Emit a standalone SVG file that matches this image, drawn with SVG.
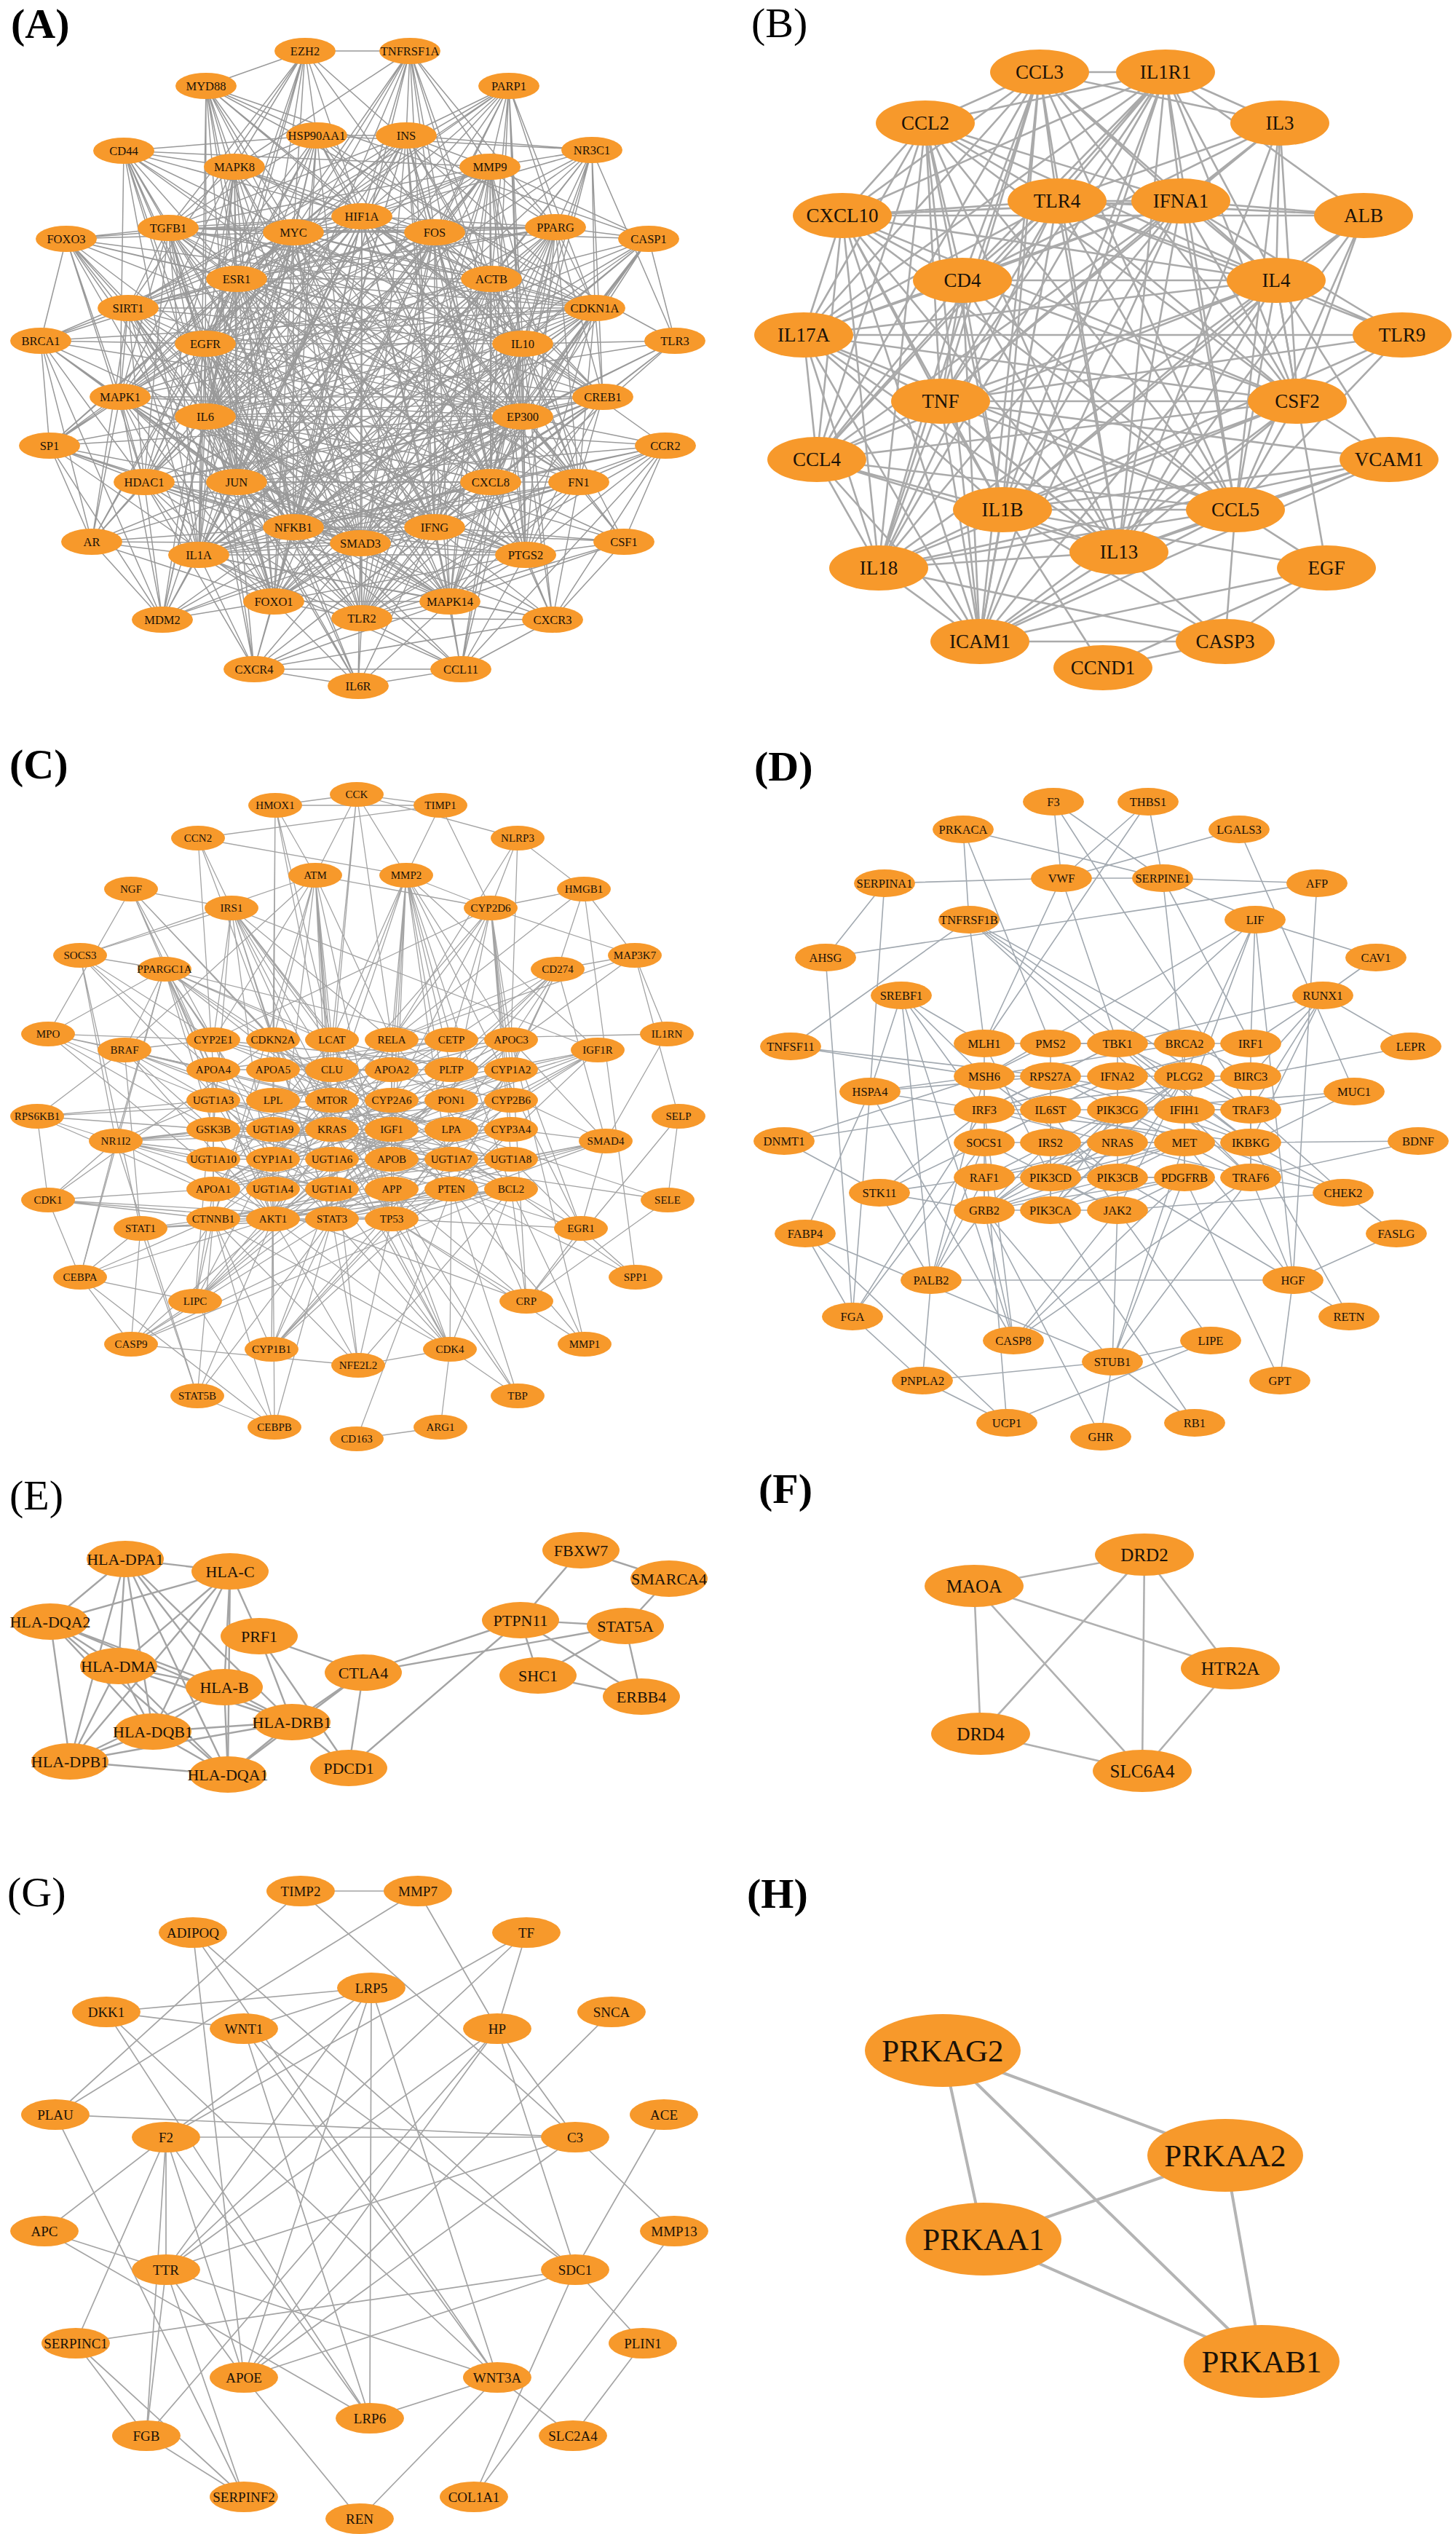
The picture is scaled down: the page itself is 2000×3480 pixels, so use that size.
<svg xmlns="http://www.w3.org/2000/svg" width="2000" height="3480" viewBox="0 0 2000 3480">
<style>
.nd ellipse{fill:#F7992B}
text{font-family:"Liberation Serif","Times New Roman",serif;fill:#1a1208;text-anchor:middle;dominant-baseline:central}
.tA{font-size:16.5px}.tB{font-size:27px}.tC{font-size:15px}.tD{font-size:16.5px}.tE{font-size:22px}.tF{font-size:25px}.tG{font-size:19px}.tH{font-size:43px}
.lab{font-size:58px;text-anchor:start;dominant-baseline:auto;fill:#000}
.bold{font-weight:bold}
.e path{fill:none;stroke:#a4a4a4;stroke-linecap:round}
.eA path{stroke-width:1.5;stroke:#999}.eB path{stroke-width:2.6;stroke:#aaa}.eC path{stroke-width:1.3}.eD path{stroke-width:1.6;stroke:#a2a9b0}.eE path{stroke-width:2.4}.eF path{stroke-width:2.6;stroke:#b0b0b0}.eG path{stroke-width:1.7}.eH path{stroke-width:4;stroke:#b4b4b4}
</style>
<rect width="2000" height="3480" fill="#fff"/>
<g id="panel-labels">
<text class="lab bold" x="15" y="52">(A)</text>
<text class="lab" x="1032" y="51">(B)</text>
<text class="lab bold" x="13" y="1069">(C)</text>
<text class="lab bold" x="1036" y="1072">(D)</text>
<text class="lab" x="13" y="2073">(E)</text>
<text class="lab bold" x="1042" y="2064">(F)</text>
<text class="lab" x="10" y="2618">(G)</text>
<text class="lab bold" x="1026" y="2620">(H)</text>
</g>
<g id="connectors" class="e">
<g id="edges-A" class="eA">
<path d="M283 118L419 70 435 186M322 229L419 70 403 319M325 383L419 70 282 472M231 313L419 70 497 297M597 319L419 70 282 572M176 423L419 70 563 70M817 423L419 70 325 662"/>
<path d="M558 186L563 70 497 297M597 319L563 70 403 319M673 229L563 70 675 383M403 724L563 70 282 572M674 662L563 70 273 762M282 472L563 70 322 229M597 724L563 70 718 572M763 312L563 70"/>
<path d="M273 762L283 118 282 572M497 849L283 118 403 724M322 229L283 118 435 186M325 383L283 118 403 319M497 297L283 118 597 724M927 468L283 118 674 662M718 472L283 118 325 662M891 328L283 118"/>
<path d="M558 186L699 118 497 297M673 229L699 118 675 383M718 472L699 118 718 572M817 423L699 118 763 312M403 724L699 118 176 423M403 319L699 118 325 383M325 662L699 118 597 319M282 572L699 118 674 662M722 762L699 118"/>
<path d="M435 186L170 207 322 229M282 472L170 207 325 383M403 319L170 207 282 572M165 545L170 207 325 662M795 662L170 207 673 229M497 297L170 207 403 724M495 746L170 207 231 313M718 572L170 207 273 762"/>
<path d="M558 186L813 206 673 229M763 312L813 206 675 383M718 472L813 206 718 572M817 423L813 206 828 545M597 319L813 206 497 297M325 662L813 206 403 724M282 572L813 206 435 186M674 662L813 206 927 468"/>
<path d="M231 313L91 328 176 423M325 383L91 328 403 319M282 472L91 328 282 572M165 545L91 328 56 468M198 662L91 328 325 662M497 297L91 328 376 826M718 572L91 328 495 746M718 472L91 328 817 423"/>
<path d="M763 312L891 328 675 383M718 472L891 328 718 572M674 662L891 328 597 724M817 423L891 328 927 468M282 572L891 328 403 724M497 849L891 328 597 319M673 229L891 328 325 662M273 762L891 328"/>
<path d="M176 423L56 468 282 472M165 545L56 468 282 572M325 383L56 468 198 662M325 662L56 468 68 612M126 744L56 468 223 851M403 319L56 468 817 423M718 572L56 468 403 724"/>
<path d="M718 472L927 468 718 572M674 662L927 468 597 724M282 572L927 468 403 724M497 849L927 468 828 545"/>
<path d="M165 545L68 612 282 472M282 572L68 612 198 662M325 662L68 612 126 744M223 851L68 612 325 383M718 572L68 612 403 724M495 746L68 612 376 826M403 319L68 612 497 297"/>
<path d="M674 662L914 612 597 724M718 472L914 612 718 572M795 662L914 612 857 744M759 851L914 612 633 919M282 572L914 612 497 849M403 724L914 612 722 762M325 662L914 612"/>
<path d="M198 662L126 744 165 545M282 472L126 744 282 572M325 662L126 744 223 851M403 724L126 744 495 746M376 826L126 744 718 572M325 383L126 744 176 423M273 762L126 744"/>
<path d="M795 662L857 744 674 662M718 572L857 744 718 472M597 724L857 744 282 572M759 851L857 744 618 826M497 849L857 744 722 762M403 724L857 744"/>
<path d="M273 762L223 851 325 662M198 662L223 851 282 572M282 472L223 851 165 545M376 826L223 851 495 746M718 572L223 851 403 319M325 383L223 851 817 423M597 724L223 851"/>
<path d="M722 762L759 851 597 724M674 662L759 851 718 572M718 472L759 851 618 826M633 919L759 851 497 849M795 662L759 851 282 572M403 724L759 851 349 919M273 762L759 851"/>
<path d="M376 826L349 919 273 762M325 662L349 919 282 572M403 724L349 919 495 746M497 849L349 919 492 942M618 826L349 919 674 662M597 724L349 919 633 919M198 662L349 919 282 472"/>
<path d="M618 826L633 919 597 724M674 662L633 919 282 572M497 849L633 919 492 942M722 762L633 919 718 572M718 472L633 919 403 724M273 762L633 919"/>
<path d="M497 849L492 942 495 746M282 572L492 942 325 662M403 724L492 942 376 826M618 826L492 942 597 724M282 472L492 942"/>
<path d="M403 319L497 297 597 319M325 383L497 297 675 383M282 472L497 297 718 472M282 572L497 297 718 572M325 662L497 297 674 662M403 724L497 297 597 724M495 746L497 297"/>
<path d="M597 319L403 319 325 383M675 383L403 319 282 472M718 472L403 319 282 572M718 572L403 319 325 662M674 662L403 319 403 724M597 724L403 319 495 746"/>
<path d="M325 383L597 319 675 383M282 472L597 319 718 472M282 572L597 319 718 572M325 662L597 319 674 662M403 724L597 319 597 724M495 746L597 319"/>
<path d="M675 383L325 383 282 472M718 472L325 383 282 572M718 572L325 383 325 662M674 662L325 383 403 724M597 724L325 383 495 746"/>
<path d="M282 472L675 383 718 472M282 572L675 383 718 572M325 662L675 383 674 662M403 724L675 383 597 724M495 746L675 383"/>
<path d="M718 472L282 472 282 572M718 572L282 472 325 662M674 662L282 472 403 724M597 724L282 472 495 746"/>
<path d="M282 572L718 472 718 572M325 662L718 472 674 662M403 724L718 472 597 724M495 746L718 472"/>
<path d="M718 572L282 572 325 662M674 662L282 572 403 724M597 724L282 572 495 746"/>
<path d="M325 662L718 572 674 662M403 724L718 572 597 724M495 746L718 572"/>
<path d="M674 662L325 662 403 724M597 724L325 662 495 746M403 724L674 662 597 724M495 746L674 662M597 724L403 724 495 746M495 746L597 724"/>
<path d="M497 297L435 186 403 319M597 319L435 186 325 383M675 383L435 186 282 472M282 572L435 186 718 572M325 662L435 186 403 724M495 746L435 186 558 186M322 229L435 186 231 313M817 423L435 186 165 545M376 826L435 186 722 762"/>
<path d="M497 297L558 186 403 319M597 319L558 186 325 383M675 383L558 186 282 472M718 472L558 186 282 572M325 662L558 186 674 662M403 724L558 186 597 724M673 229L558 186 763 312M176 423L558 186 231 313M273 762L558 186 376 826M722 762L558 186 618 826M497 849L558 186"/>
<path d="M497 297L322 229 403 319M597 319L322 229 325 383M675 383L322 229 282 472M282 572L322 229 325 662M403 724L322 229 495 746M231 313L322 229 165 545M618 826L322 229 198 662M273 762L322 229 376 826M597 724L322 229 817 423"/>
<path d="M497 297L673 229 403 319M597 319L673 229 325 383M675 383L673 229 282 472M718 472L673 229 282 572M718 572L673 229 325 662M674 662L673 229 403 724M597 724L673 229 495 746M763 312L673 229 231 313M795 662L673 229 722 762M618 826L673 229 497 849M273 762L673 229"/>
<path d="M497 297L231 313 403 319M597 319L231 313 325 383M675 383L231 313 282 472M718 472L231 313 282 572M718 572L231 313 325 662M674 662L231 313 403 724M597 724L231 313 495 746M176 423L231 313 165 545M198 662L231 313 795 662M273 762L231 313 376 826M618 826L231 313 817 423M763 312L231 313"/>
<path d="M497 297L763 312 403 319M597 319L763 312 325 383M675 383L763 312 718 472M282 572L763 312 718 572M325 662L763 312 674 662M403 724L763 312 597 724M495 746L763 312 817 423M828 545L763 312 795 662M722 762L763 312 176 423M273 762L763 312 497 849M376 826L763 312"/>
<path d="M497 297L176 423 403 319M597 319L176 423 325 383M282 472L176 423 282 572M718 572L176 423 325 662M403 724L176 423 495 746M165 545L176 423 198 662M376 826L176 423 817 423M273 762L176 423 718 472M722 762L176 423"/>
<path d="M497 297L817 423 403 319M597 319L817 423 325 383M675 383L817 423 282 472M718 472L817 423 282 572M718 572L817 423 325 662M674 662L817 423 403 724M495 746L817 423 828 545M795 662L817 423 722 762M618 826L817 423 198 662M165 545L817 423 376 826M273 762L817 423"/>
<path d="M497 297L165 545 403 319M597 319L165 545 325 383M675 383L165 545 282 472M282 572L165 545 718 572M325 662L165 545 403 724M495 746L165 545 198 662M273 762L165 545 376 826M618 826L165 545 674 662M597 724L165 545 722 762M828 545L165 545 497 849"/>
<path d="M497 297L828 545 403 319M597 319L828 545 325 383M675 383L828 545 282 472M718 472L828 545 282 572M718 572L828 545 325 662M674 662L828 545 403 724M597 724L828 545 495 746M795 662L828 545 722 762M618 826L828 545 376 826M198 662L828 545 273 762"/>
<path d="M497 297L198 662 403 319M597 319L198 662 325 383M282 472L198 662 282 572M718 572L198 662 325 662M403 724L198 662 495 746M273 762L198 662 376 826M674 662L198 662 597 724M618 826L198 662 497 849"/>
<path d="M497 297L795 662 403 319M597 319L795 662 325 383M675 383L795 662 282 472M718 472L795 662 282 572M718 572L795 662 325 662M674 662L795 662 403 724M597 724L795 662 495 746M722 762L795 662 618 826M273 762L795 662 497 849"/>
<path d="M497 297L273 762 403 319M597 319L273 762 325 383M675 383L273 762 282 472M718 472L273 762 282 572M718 572L273 762 325 662M674 662L273 762 403 724M597 724L273 762 495 746M376 826L273 762 722 762M618 826L273 762 497 849"/>
<path d="M497 297L722 762 403 319M597 319L722 762 325 383M675 383L722 762 282 472M718 472L722 762 282 572M718 572L722 762 325 662M674 662L722 762 403 724M597 724L722 762 495 746M376 826L722 762 618 826M497 849L722 762"/>
<path d="M497 297L376 826 403 319M597 319L376 826 325 383M675 383L376 826 282 472M718 472L376 826 282 572M718 572L376 826 325 662M403 724L376 826 597 724M495 746L376 826 618 826M497 849L376 826"/>
<path d="M497 297L618 826 403 319M597 319L618 826 325 383M675 383L618 826 282 472M718 472L618 826 282 572M718 572L618 826 325 662M674 662L618 826 403 724M597 724L618 826 495 746M497 849L618 826"/>
<path d="M497 297L497 849 403 319M597 319L497 849 325 383M675 383L497 849 282 472M718 472L497 849 282 572M718 572L497 849 325 662M674 662L497 849 403 724M597 724L497 849 495 746"/>
</g>
<g id="edges-B" class="eB">
<path d="M1601 99L1428 99 1271 169M1452 276L1428 99 1622 276M1157 296L1428 99 1322 385M1753 385L1428 99 1104 460M1292 551L1428 99 1782 551M1122 631L1428 99 1377 700M1697 700L1428 99 1537 758M1207 780L1428 99 1346 881"/>
<path d="M1271 169L1601 99 1452 276M1622 276L1601 99 1157 296M1322 385L1601 99 1753 385M1104 460L1601 99 1292 551M1782 551L1601 99 1122 631M1377 700L1601 99 1697 700M1537 758L1601 99 1207 780M1346 881L1601 99"/>
<path d="M1452 276L1271 169 1622 276M1157 296L1271 169 1322 385M1753 385L1271 169 1104 460M1292 551L1271 169 1782 551M1122 631L1271 169 1377 700M1697 700L1271 169 1537 758M1207 780L1271 169 1346 881"/>
<path d="M1622 276L1452 276 1157 296M1322 385L1452 276 1753 385M1104 460L1452 276 1292 551M1782 551L1452 276 1122 631M1377 700L1452 276 1697 700M1537 758L1452 276 1207 780M1346 881L1452 276"/>
<path d="M1157 296L1622 276 1322 385M1753 385L1622 276 1104 460M1292 551L1622 276 1782 551M1122 631L1622 276 1377 700M1697 700L1622 276 1537 758M1207 780L1622 276 1346 881"/>
<path d="M1322 385L1157 296 1753 385M1104 460L1157 296 1292 551M1782 551L1157 296 1122 631M1377 700L1157 296 1697 700M1537 758L1157 296 1207 780M1346 881L1157 296"/>
<path d="M1753 385L1322 385 1104 460M1292 551L1322 385 1782 551M1122 631L1322 385 1377 700M1697 700L1322 385 1537 758M1207 780L1322 385 1346 881"/>
<path d="M1104 460L1753 385 1292 551M1782 551L1753 385 1122 631M1377 700L1753 385 1697 700M1537 758L1753 385 1207 780M1346 881L1753 385"/>
<path d="M1292 551L1104 460 1782 551M1122 631L1104 460 1377 700M1697 700L1104 460 1537 758M1207 780L1104 460 1346 881"/>
<path d="M1782 551L1292 551 1122 631M1377 700L1292 551 1697 700M1537 758L1292 551 1207 780M1346 881L1292 551"/>
<path d="M1122 631L1782 551 1377 700M1697 700L1782 551 1537 758M1207 780L1782 551 1346 881"/>
<path d="M1377 700L1122 631 1697 700M1537 758L1122 631 1207 780M1346 881L1122 631"/>
<path d="M1697 700L1377 700 1537 758M1207 780L1377 700 1346 881M1537 758L1697 700 1207 780M1346 881L1697 700M1207 780L1537 758 1346 881M1207 780L1346 881"/>
<path d="M1601 99L1758 169 1428 99M1452 276L1758 169 1622 276M1753 385L1758 169 1782 551M1697 700L1758 169 1537 758M1292 551L1758 169 1322 385"/>
<path d="M1622 276L1873 296 1452 276M1753 385L1873 296 1782 551M1601 99L1873 296 1157 296M1697 700L1873 296 1537 758M1377 700L1873 296"/>
<path d="M1753 385L1926 460 1782 551M1452 276L1926 460 1622 276M1377 700L1926 460 1697 700M1104 460L1926 460 1292 551"/>
<path d="M1782 551L1908 631 1753 385M1292 551L1908 631 1377 700M1697 700L1908 631 1346 881M1537 758L1908 631 1207 780"/>
<path d="M1782 551L1822 780 1753 385M1346 881L1822 780 1697 700M1377 700L1822 780 1683 881M1515 917L1822 780"/>
<path d="M1537 758L1683 881 1377 700M1292 551L1683 881 1697 700M1346 881L1683 881 1207 780M1515 917L1683 881M1377 700L1515 917"/>
</g>
<g id="edges-C" class="eC">
<path d="M702 1469L293 1428 702 1511M702 1551L293 1428 375 1592M702 1592L293 1428 375 1674"/>
<path d="M538 1469L293 1469 620 1469M620 1428L293 1469 538 1592M620 1551L293 1469 293 1633"/>
<path d="M702 1592L293 1511 620 1592M456 1592L293 1511 456 1633M375 1633L293 1511 702 1551"/>
<path d="M375 1674L293 1551 538 1674M538 1551L293 1551 293 1674M456 1551L293 1551 702 1633M620 1633L293 1551 456 1511"/>
<path d="M702 1592L293 1592 620 1592M375 1551L293 1592 456 1633M702 1469L293 1592"/>
<path d="M620 1428L293 1633 702 1428M620 1469L293 1633 538 1469M538 1592L293 1633 456 1428M620 1511L293 1633 620 1551"/>
<path d="M375 1674L293 1674 538 1674M456 1674L293 1674 538 1633M702 1633L293 1674 456 1551M538 1428L293 1674"/>
<path d="M538 1674L375 1428 702 1633M620 1633L375 1428 456 1551M293 1674L375 1428 456 1674"/>
<path d="M620 1428L375 1469 375 1511M702 1428L375 1469 538 1592M620 1551L375 1469"/>
<path d="M702 1428L375 1511 620 1428M538 1592L375 1511 620 1469M538 1469L375 1511 538 1551"/>
<path d="M702 1592L375 1551 620 1592M702 1469L375 1551 456 1592"/>
<path d="M702 1469L375 1592 702 1511M702 1551L375 1592 538 1511M375 1674L375 1592"/>
<path d="M702 1592L375 1633 702 1551M456 1592L375 1633"/>
<path d="M456 1511L375 1674 538 1551M620 1633L375 1674 538 1428M702 1633L375 1674 456 1551M538 1633L375 1674 456 1428"/>
<path d="M538 1592L456 1428 620 1469M538 1469L456 1428 538 1674"/>
<path d="M538 1633L456 1469 538 1592M538 1674L456 1469 702 1633"/>
<path d="M456 1674L456 1511 538 1674M620 1633L456 1511 538 1551"/>
<path d="M702 1633L456 1551 538 1674M538 1428L456 1551"/>
<path d="M702 1511L456 1592 702 1592M702 1469L456 1592"/>
<path d="M702 1551L456 1633 620 1592M702 1511L456 1633 702 1428"/>
<path d="M702 1633L456 1674 538 1428M620 1633L456 1674 538 1674M538 1551L456 1674"/>
<path d="M538 1674L538 1428 702 1633M538 1551L538 1428"/>
<path d="M538 1592L538 1469 620 1428M620 1511L538 1469"/>
<path d="M538 1674L538 1551 538 1633M702 1633L538 1551"/>
<path d="M702 1633L538 1674 620 1633M702 1428L538 1674 702 1469"/>
<path d="M538 1592L620 1469 702 1428"/>
<path d="M490 1091L378 1106 605 1106M375 1428L378 1106 456 1428M433 1202L378 1106 456 1511M375 1674L378 1106"/>
<path d="M433 1202L490 1091 456 1428M456 1469L490 1091 558 1202M605 1106L490 1091 711 1151M538 1428L490 1091"/>
<path d="M318 1247L272 1151 375 1428M558 1202L272 1151 605 1106M293 1469L272 1151"/>
<path d="M293 1428L433 1202 375 1428M456 1428L433 1202 456 1469M456 1511L433 1202 456 1551M375 1674L433 1202 456 1674M538 1674L433 1202 110 1312M171 1442L433 1202 674 1247M538 1428L433 1202 293 1674"/>
<path d="M318 1247L180 1221 293 1428M375 1428L180 1221 375 1674M293 1469L180 1221 456 1511"/>
<path d="M293 1428L318 1247 375 1428M456 1428L318 1247 456 1469M456 1511L318 1247 538 1428M375 1674L318 1247 293 1551M456 1551L318 1247 538 1551M620 1633L318 1247 821 1442M110 1312L318 1247 456 1674"/>
<path d="M159 1567L110 1312 293 1428M456 1674L110 1312 226 1331M193 1687L110 1312 293 1469"/>
<path d="M293 1428L226 1331 293 1469M293 1511L226 1331 456 1428M456 1511L226 1331 375 1674M456 1674L226 1331 159 1567M66 1420L226 1331 375 1428M538 1551L226 1331 293 1551M171 1442L226 1331 620 1428M538 1469L226 1331"/>
<path d="M171 1442L66 1420 293 1469M293 1511L66 1420 293 1551M293 1428L66 1420 180 1221M375 1674L66 1420"/>
<path d="M293 1428L171 1442 293 1469M293 1511L171 1442 293 1551M375 1511L171 1442 51 1533M193 1687L171 1442 456 1551M456 1511L171 1442 375 1674"/>
<path d="M159 1567L51 1533 293 1551M293 1511L51 1533 375 1674M456 1511L51 1533 66 1648"/>
<path d="M293 1551L159 1567 375 1551M293 1592L159 1567 375 1592M293 1511L159 1567 293 1633M375 1633L159 1567 110 1754M271 1917L159 1567 66 1648M702 1551L159 1567 702 1511M456 1633L159 1567"/>
<path d="M293 1633L66 1648 293 1674M110 1754L66 1648 375 1674M538 1674L66 1648 375 1428"/>
<path d="M293 1674L193 1687 375 1674M456 1674L193 1687 110 1754M180 1846L193 1687"/>
<path d="M268 1787L110 1754 180 1846M293 1674L110 1754 375 1674M226 1331L110 1754"/>
<path d="M293 1633L268 1787 293 1469M620 1428L268 1787 456 1428M538 1469L268 1787 620 1469M538 1592L268 1787 180 1846M293 1674L268 1787 702 1428"/>
<path d="M375 1674L180 1846 293 1674M492 1875L180 1846 538 1674M456 1674L180 1846 702 1633"/>
<path d="M456 1674L271 1917 193 1687M375 1674L271 1917 293 1674M377 1960L271 1917"/>
<path d="M375 1674L373 1853 375 1592M702 1469L373 1853 702 1551M293 1674L373 1853 456 1674M538 1674L373 1853 456 1633M702 1511L373 1853"/>
<path d="M375 1674L377 1960 456 1674M293 1674L377 1960 268 1787M110 1754L377 1960"/>
<path d="M375 1674L492 1875 293 1674M456 1674L492 1875 538 1674M618 1853L492 1875 456 1551M702 1633L492 1875"/>
<path d="M605 1960L490 1976 620 1633M605 1960L618 1853"/>
<path d="M538 1674L618 1853 538 1633M620 1633L618 1853 375 1674M456 1674L618 1853 293 1674M711 1917L618 1853 702 1633M456 1551L618 1853 375 1428M456 1633L618 1853"/>
<path d="M538 1674L711 1917 538 1633M620 1633L711 1917"/>
<path d="M538 1674L723 1787 538 1633M798 1687L723 1787 917 1648M702 1428L723 1787 702 1633M293 1633L723 1787 620 1551"/>
<path d="M702 1633L803 1846 538 1674M702 1428L803 1846 620 1633"/>
<path d="M802 1221L873 1754 798 1687M620 1633L873 1754 702 1633"/>
<path d="M932 1533L917 1648 620 1551M538 1592L917 1648M872 1312L932 1533 723 1787"/>
<path d="M832 1567L916 1420 538 1428M872 1312L916 1420"/>
<path d="M702 1592L832 1567 702 1551M538 1674L832 1567 766 1331M798 1687L832 1567 702 1428M293 1674L832 1567 538 1428M375 1674L832 1567 456 1674"/>
<path d="M538 1674L798 1687 702 1633M620 1633L798 1687 702 1428M702 1592L798 1687"/>
<path d="M538 1551L821 1442 375 1674M456 1551L821 1442 620 1633M456 1511L821 1442 702 1511M702 1469L821 1442 456 1674"/>
<path d="M802 1221L872 1312 766 1331M538 1428L872 1312 674 1247M375 1674L872 1312"/>
<path d="M702 1428L766 1331 620 1428M538 1428L766 1331 702 1469M620 1633L766 1331 375 1674M456 1674L766 1331 802 1221M620 1469L766 1331"/>
<path d="M674 1247L802 1221 711 1151M538 1428L802 1221M674 1247L711 1151 702 1428M538 1428L711 1151M558 1202L605 1106 674 1247"/>
<path d="M538 1428L558 1202 620 1428M702 1428L558 1202 538 1469M620 1469L558 1202 538 1551M620 1551L558 1202 538 1674M674 1247L558 1202 821 1442M456 1428L558 1202 456 1469M456 1511L558 1202 798 1687M702 1633L558 1202 620 1633"/>
<path d="M702 1469L674 1247 702 1511M702 1551L674 1247 538 1511M375 1592L674 1247 293 1428M620 1428L674 1247 538 1428M702 1428L674 1247 702 1592M620 1511L674 1247"/>
</g>
<g id="edges-D" class="eD">
<path d="M1458 1206L1447 1101 1597 1206M1718 1524L1447 1101M1597 1206L1323 1139 1331 1263M1443 1433L1323 1139"/>
<path d="M1458 1206L1215 1213 1134 1315M1195 1499L1215 1213"/>
<path d="M1352 1433L1458 1206 1577 1101M1702 1139L1458 1206 1597 1206M1535 1433L1458 1206"/>
<path d="M1086 1437L1331 1263 1352 1433M1718 1617L1331 1263 1718 1524M1718 1478L1331 1263 1718 1569"/>
<path d="M1809 1213L1134 1315 1171 1808"/>
<path d="M1195 1499L1238 1367 1279 1758M1392 1841L1238 1367 1352 1433M1352 1478L1238 1367 1352 1524"/>
<path d="M1352 1478L1086 1437 1443 1478"/>
<path d="M1171 1808L1195 1499 1392 1841M1352 1478L1195 1499 1443 1478M1352 1524L1195 1499"/>
<path d="M1352 1478L1077 1567 1352 1524M1208 1638L1077 1567"/>
<path d="M1352 1524L1208 1638 1352 1569M1352 1617L1208 1638 1352 1662M1279 1758L1208 1638"/>
<path d="M1171 1808L1106 1694 1383 1954M1195 1499L1106 1694 1528 1870"/>
<path d="M1267 1896L1171 1808 1352 1524M1352 1569L1171 1808"/>
<path d="M1267 1896L1279 1758 1352 1617M1352 1662L1279 1758 1352 1569M1776 1758L1279 1758 1352 1478"/>
<path d="M1535 1662L1392 1841 1627 1617M1718 1617L1392 1841 1352 1662M1352 1524L1392 1841"/>
<path d="M1528 1870L1267 1896 1383 1954M1663 1841L1383 1954 1352 1569M1512 1973L1352 1662 1528 1870"/>
<path d="M1597 1206L1577 1101 1352 1433M1702 1139L1860 1499"/>
<path d="M1809 1213L1597 1206 1724 1263M1627 1478L1597 1206 1718 1433"/>
<path d="M1890 1315L1724 1263 1535 1433M1627 1478L1724 1263 1627 1524M1718 1433L1724 1263 1352 1478M1776 1758L1724 1263"/>
<path d="M1890 1315L1817 1367M1718 1433L1817 1367 1718 1524M1718 1478L1817 1367 1938 1437M1535 1433L1817 1367 1718 1569"/>
<path d="M1809 1213L1776 1758M1938 1437L1718 1478"/>
<path d="M1718 1524L1860 1499 1718 1569M1535 1524L1860 1499"/>
<path d="M1718 1569L1948 1567 1718 1617"/>
<path d="M1718 1617L1845 1638 1718 1569M1535 1524L1845 1638 1535 1662M1918 1694L1845 1638 1718 1524"/>
<path d="M1918 1694L1776 1758M1853 1808L1776 1758 1758 1896M1718 1617L1776 1758 1535 1617M1627 1569L1776 1758"/>
<path d="M1853 1808L1718 1569M1758 1896L1627 1617"/>
<path d="M1535 1662L1663 1841 1528 1870"/>
<path d="M1535 1662L1528 1870 1627 1617M1627 1569L1528 1870 1718 1617M1512 1973L1528 1870 1641 1954M1641 1954L1443 1662"/>
<path d="M1443 1433L1352 1433 1352 1478M1535 1433L1352 1433 1352 1524M1443 1617L1352 1433"/>
<path d="M1352 1478L1443 1433 1443 1478M1627 1433L1443 1433"/>
<path d="M1443 1478L1352 1478 1443 1524M1627 1433L1352 1478 1352 1569M1535 1617L1352 1478"/>
<path d="M1535 1478L1443 1478 1352 1524M1718 1617L1443 1478 1718 1478M1718 1569L1443 1478 1718 1524M1443 1662L1443 1478 1535 1433"/>
<path d="M1352 1524L1535 1433 1535 1478M1718 1569L1535 1433 1718 1524M1718 1433L1535 1433 1627 1524M1535 1524L1535 1433"/>
<path d="M1627 1569L1627 1433 1627 1478M1535 1478L1718 1433 1352 1524M1718 1617L1718 1433"/>
<path d="M1352 1524L1535 1478 1443 1524M1535 1662L1535 1478 1535 1524M1352 1569L1535 1478"/>
<path d="M1443 1617L1627 1478 1443 1662M1535 1617L1627 1478 1627 1569M1627 1617L1627 1478 1535 1662M1535 1569L1627 1478 1352 1662"/>
<path d="M1718 1524L1718 1478 1718 1617M1718 1569L1718 1478 1352 1524"/>
<path d="M1627 1524L1352 1524 1718 1524M1718 1569L1352 1524 1718 1617M1352 1569L1352 1524"/>
<path d="M1535 1662L1443 1524 1352 1569M1443 1617L1443 1524 1443 1662M1443 1569L1443 1524 1627 1569"/>
<path d="M1443 1617L1535 1524 1443 1662M1535 1569L1535 1524 1352 1662M1352 1617L1535 1524"/>
<path d="M1718 1524L1627 1524 1718 1569M1718 1617L1627 1524M1718 1569L1718 1524 1718 1617"/>
<path d="M1535 1662L1352 1569 1443 1569M1352 1662L1352 1569"/>
<path d="M1443 1617L1443 1569 1443 1662M1535 1617L1443 1569 1352 1662M1627 1569L1443 1569 1535 1569"/>
<path d="M1352 1617L1535 1569 1352 1662M1443 1662L1535 1569 1443 1617M1627 1569L1535 1569"/>
<path d="M1352 1662L1627 1569 1443 1662M1443 1617L1627 1569 1627 1617M1352 1617L1627 1569"/>
<path d="M1718 1569L1718 1617M1352 1662L1352 1617 1535 1617M1627 1617L1352 1617"/>
<path d="M1627 1617L1443 1617 1535 1662M1535 1617L1443 1617M1627 1617L1535 1617 1352 1662"/>
<path d="M1352 1662L1627 1617 1443 1662M1535 1662L1627 1617M1443 1662L1352 1662 1535 1662"/>
</g>
<g id="edges-E" class="eE">
<path d="M316 2158L172 2141 69 2227M163 2288L172 2141 210 2378M96 2419L172 2141 308 2317M401 2365L172 2141 313 2437"/>
<path d="M69 2227L316 2158 163 2288M210 2378L316 2158 96 2419M308 2317L316 2158 356 2247M313 2437L316 2158"/>
<path d="M163 2288L69 2227 308 2317M401 2365L69 2227 210 2378M96 2419L69 2227 313 2437"/>
<path d="M308 2317L163 2288 401 2365M210 2378L163 2288 96 2419M313 2437L163 2288"/>
<path d="M401 2365L308 2317 210 2378M96 2419L308 2317 313 2437"/>
<path d="M210 2378L401 2365 96 2419M313 2437L401 2365 499 2297M479 2428L401 2365 356 2247"/>
<path d="M96 2419L210 2378 313 2437M96 2419L313 2437"/>
<path d="M499 2297L356 2247 479 2428M479 2428L499 2297 715 2225M859 2233L499 2297 313 2437M479 2428L715 2225"/>
<path d="M798 2129L715 2225 859 2233M739 2301L715 2225 881 2330"/>
<path d="M798 2129L919 2168 859 2233M739 2301L859 2233 881 2330M739 2301L881 2330"/>
</g>
<g id="edges-F" class="eF">
<path d="M1572 2135L1338 2178 1690 2291M1347 2381L1338 2178 1569 2432M1347 2381L1572 2135 1569 2432M1690 2291L1572 2135M1690 2291L1569 2432 1347 2381"/>
</g>
<g id="edges-G" class="eG">
<path d="M574 2597L413 2597 76 2904M790 2935L413 2597M76 2904L574 2597 683 2786"/>
<path d="M335 3265L265 2654 790 3117M683 3265L265 2654"/>
<path d="M683 2786L723 2654 228 2935M228 3117L723 2654"/>
<path d="M146 2763L510 2730 335 2786M508 3321L510 2730 228 3117M683 3265L510 2730 335 3265M228 2935L510 2730"/>
<path d="M335 2786L146 2763 683 3265M508 3321L146 2763"/>
<path d="M508 3321L335 2786 683 3265M790 3117L335 2786"/>
<path d="M840 2763L335 3265"/>
<path d="M228 3117L683 2786 335 3265M201 3345L683 2786 790 2935M790 3117L683 2786"/>
<path d="M790 2935L76 2904 335 3429"/>
<path d="M790 2935L228 2935 61 3064M228 3117L228 2935 201 3345M104 3218L228 2935 508 3321M335 3265L228 2935"/>
<path d="M228 3117L790 2935 335 3265M926 3064L790 2935M912 2904L790 3117"/>
<path d="M228 3117L61 3064 508 3321"/>
<path d="M683 3265L228 3117 335 3265M201 3345L228 3117 335 3429"/>
<path d="M104 3218L790 3117 335 3265M883 3218L790 3117 651 3429"/>
<path d="M926 3064L651 3429M883 3218L787 3345"/>
<path d="M508 3321L683 3265 494 3459M787 3345L683 3265M335 3265L494 3459"/>
<path d="M201 3345L104 3218 335 3429M201 3345L335 3429"/>
</g>
<g id="edges-H" class="eH">
<path d="M1683 2960L1295 2816 1351 3075M1733 3243L1295 2816M1683 2960L1351 3075 1733 3243 1683 2960"/>
</g>
</g>
<g id="nodes-A" class="nd tA">
<g id="A-EZH2"><ellipse cx="419" cy="70" rx="42" ry="18"/><text x="419" y="70">EZH2</text></g>
<g id="A-TNFRSF1A"><ellipse cx="563" cy="70" rx="42" ry="18"/><text x="563" y="70">TNFRSF1A</text></g>
<g id="A-MYD88"><ellipse cx="283" cy="118" rx="42" ry="18"/><text x="283" y="118">MYD88</text></g>
<g id="A-PARP1"><ellipse cx="699" cy="118" rx="42" ry="18"/><text x="699" y="118">PARP1</text></g>
<g id="A-HSP90AA1"><ellipse cx="435" cy="186" rx="42" ry="18"/><text x="435" y="186">HSP90AA1</text></g>
<g id="A-INS"><ellipse cx="558" cy="186" rx="42" ry="18"/><text x="558" y="186">INS</text></g>
<g id="A-CD44"><ellipse cx="170" cy="207" rx="42" ry="18"/><text x="170" y="207">CD44</text></g>
<g id="A-NR3C1"><ellipse cx="813" cy="206" rx="42" ry="18"/><text x="813" y="206">NR3C1</text></g>
<g id="A-MAPK8"><ellipse cx="322" cy="229" rx="42" ry="18"/><text x="322" y="229">MAPK8</text></g>
<g id="A-MMP9"><ellipse cx="673" cy="229" rx="42" ry="18"/><text x="673" y="229">MMP9</text></g>
<g id="A-HIF1A"><ellipse cx="497" cy="297" rx="42" ry="18"/><text x="497" y="297">HIF1A</text></g>
<g id="A-TGFB1"><ellipse cx="231" cy="313" rx="42" ry="18"/><text x="231" y="313">TGFB1</text></g>
<g id="A-MYC"><ellipse cx="403" cy="319" rx="42" ry="18"/><text x="403" y="319">MYC</text></g>
<g id="A-FOS"><ellipse cx="597" cy="319" rx="42" ry="18"/><text x="597" y="319">FOS</text></g>
<g id="A-PPARG"><ellipse cx="763" cy="312" rx="42" ry="18"/><text x="763" y="312">PPARG</text></g>
<g id="A-FOXO3"><ellipse cx="91" cy="328" rx="42" ry="18"/><text x="91" y="328">FOXO3</text></g>
<g id="A-CASP1"><ellipse cx="891" cy="328" rx="42" ry="18"/><text x="891" y="328">CASP1</text></g>
<g id="A-ESR1"><ellipse cx="325" cy="383" rx="42" ry="18"/><text x="325" y="383">ESR1</text></g>
<g id="A-ACTB"><ellipse cx="675" cy="383" rx="42" ry="18"/><text x="675" y="383">ACTB</text></g>
<g id="A-SIRT1"><ellipse cx="176" cy="423" rx="42" ry="18"/><text x="176" y="423">SIRT1</text></g>
<g id="A-CDKN1A"><ellipse cx="817" cy="423" rx="42" ry="18"/><text x="817" y="423">CDKN1A</text></g>
<g id="A-BRCA1"><ellipse cx="56" cy="468" rx="42" ry="18"/><text x="56" y="468">BRCA1</text></g>
<g id="A-EGFR"><ellipse cx="282" cy="472" rx="42" ry="18"/><text x="282" y="472">EGFR</text></g>
<g id="A-IL10"><ellipse cx="718" cy="472" rx="42" ry="18"/><text x="718" y="472">IL10</text></g>
<g id="A-TLR3"><ellipse cx="927" cy="468" rx="42" ry="18"/><text x="927" y="468">TLR3</text></g>
<g id="A-MAPK1"><ellipse cx="165" cy="545" rx="42" ry="18"/><text x="165" y="545">MAPK1</text></g>
<g id="A-CREB1"><ellipse cx="828" cy="545" rx="42" ry="18"/><text x="828" y="545">CREB1</text></g>
<g id="A-IL6"><ellipse cx="282" cy="572" rx="42" ry="18"/><text x="282" y="572">IL6</text></g>
<g id="A-EP300"><ellipse cx="718" cy="572" rx="42" ry="18"/><text x="718" y="572">EP300</text></g>
<g id="A-SP1"><ellipse cx="68" cy="612" rx="42" ry="18"/><text x="68" y="612">SP1</text></g>
<g id="A-CCR2"><ellipse cx="914" cy="612" rx="42" ry="18"/><text x="914" y="612">CCR2</text></g>
<g id="A-HDAC1"><ellipse cx="198" cy="662" rx="42" ry="18"/><text x="198" y="662">HDAC1</text></g>
<g id="A-JUN"><ellipse cx="325" cy="662" rx="42" ry="18"/><text x="325" y="662">JUN</text></g>
<g id="A-CXCL8"><ellipse cx="674" cy="662" rx="42" ry="18"/><text x="674" y="662">CXCL8</text></g>
<g id="A-FN1"><ellipse cx="795" cy="662" rx="42" ry="18"/><text x="795" y="662">FN1</text></g>
<g id="A-NFKB1"><ellipse cx="403" cy="724" rx="42" ry="18"/><text x="403" y="724">NFKB1</text></g>
<g id="A-IFNG"><ellipse cx="597" cy="724" rx="42" ry="18"/><text x="597" y="724">IFNG</text></g>
<g id="A-AR"><ellipse cx="126" cy="744" rx="42" ry="18"/><text x="126" y="744">AR</text></g>
<g id="A-SMAD3"><ellipse cx="495" cy="746" rx="42" ry="18"/><text x="495" y="746">SMAD3</text></g>
<g id="A-CSF1"><ellipse cx="857" cy="744" rx="42" ry="18"/><text x="857" y="744">CSF1</text></g>
<g id="A-IL1A"><ellipse cx="273" cy="762" rx="42" ry="18"/><text x="273" y="762">IL1A</text></g>
<g id="A-PTGS2"><ellipse cx="722" cy="762" rx="42" ry="18"/><text x="722" y="762">PTGS2</text></g>
<g id="A-FOXO1"><ellipse cx="376" cy="826" rx="42" ry="18"/><text x="376" y="826">FOXO1</text></g>
<g id="A-MAPK14"><ellipse cx="618" cy="826" rx="42" ry="18"/><text x="618" y="826">MAPK14</text></g>
<g id="A-MDM2"><ellipse cx="223" cy="851" rx="42" ry="18"/><text x="223" y="851">MDM2</text></g>
<g id="A-TLR2"><ellipse cx="497" cy="849" rx="42" ry="18"/><text x="497" y="849">TLR2</text></g>
<g id="A-CXCR3"><ellipse cx="759" cy="851" rx="42" ry="18"/><text x="759" y="851">CXCR3</text></g>
<g id="A-CXCR4"><ellipse cx="349" cy="919" rx="42" ry="18"/><text x="349" y="919">CXCR4</text></g>
<g id="A-CCL11"><ellipse cx="633" cy="919" rx="42" ry="18"/><text x="633" y="919">CCL11</text></g>
<g id="A-IL6R"><ellipse cx="492" cy="942" rx="42" ry="18"/><text x="492" y="942">IL6R</text></g>
</g>
<g id="nodes-B" class="nd tB">
<g id="B-CCL3"><ellipse cx="1428" cy="99" rx="68" ry="31"/><text x="1428" y="99">CCL3</text></g>
<g id="B-IL1R1"><ellipse cx="1601" cy="99" rx="68" ry="31"/><text x="1601" y="99">IL1R1</text></g>
<g id="B-CCL2"><ellipse cx="1271" cy="169" rx="68" ry="31"/><text x="1271" y="169">CCL2</text></g>
<g id="B-IL3"><ellipse cx="1758" cy="169" rx="68" ry="31"/><text x="1758" y="169">IL3</text></g>
<g id="B-TLR4"><ellipse cx="1452" cy="276" rx="68" ry="31"/><text x="1452" y="276">TLR4</text></g>
<g id="B-IFNA1"><ellipse cx="1622" cy="276" rx="68" ry="31"/><text x="1622" y="276">IFNA1</text></g>
<g id="B-CXCL10"><ellipse cx="1157" cy="296" rx="68" ry="31"/><text x="1157" y="296">CXCL10</text></g>
<g id="B-ALB"><ellipse cx="1873" cy="296" rx="68" ry="31"/><text x="1873" y="296">ALB</text></g>
<g id="B-CD4"><ellipse cx="1322" cy="385" rx="68" ry="31"/><text x="1322" y="385">CD4</text></g>
<g id="B-IL4"><ellipse cx="1753" cy="385" rx="68" ry="31"/><text x="1753" y="385">IL4</text></g>
<g id="B-IL17A"><ellipse cx="1104" cy="460" rx="68" ry="31"/><text x="1104" y="460">IL17A</text></g>
<g id="B-TLR9"><ellipse cx="1926" cy="460" rx="68" ry="31"/><text x="1926" y="460">TLR9</text></g>
<g id="B-TNF"><ellipse cx="1292" cy="551" rx="68" ry="31"/><text x="1292" y="551">TNF</text></g>
<g id="B-CSF2"><ellipse cx="1782" cy="551" rx="68" ry="31"/><text x="1782" y="551">CSF2</text></g>
<g id="B-CCL4"><ellipse cx="1122" cy="631" rx="68" ry="31"/><text x="1122" y="631">CCL4</text></g>
<g id="B-VCAM1"><ellipse cx="1908" cy="631" rx="68" ry="31"/><text x="1908" y="631">VCAM1</text></g>
<g id="B-IL1B"><ellipse cx="1377" cy="700" rx="68" ry="31"/><text x="1377" y="700">IL1B</text></g>
<g id="B-CCL5"><ellipse cx="1697" cy="700" rx="68" ry="31"/><text x="1697" y="700">CCL5</text></g>
<g id="B-IL13"><ellipse cx="1537" cy="758" rx="68" ry="31"/><text x="1537" y="758">IL13</text></g>
<g id="B-IL18"><ellipse cx="1207" cy="780" rx="68" ry="31"/><text x="1207" y="780">IL18</text></g>
<g id="B-EGF"><ellipse cx="1822" cy="780" rx="68" ry="31"/><text x="1822" y="780">EGF</text></g>
<g id="B-ICAM1"><ellipse cx="1346" cy="881" rx="68" ry="31"/><text x="1346" y="881">ICAM1</text></g>
<g id="B-CASP3"><ellipse cx="1683" cy="881" rx="68" ry="31"/><text x="1683" y="881">CASP3</text></g>
<g id="B-CCND1"><ellipse cx="1515" cy="917" rx="68" ry="31"/><text x="1515" y="917">CCND1</text></g>
</g>
<g id="nodes-C" class="nd tC">
<g id="C-HMOX1"><ellipse cx="378" cy="1106" rx="37" ry="17"/><text x="378" y="1106">HMOX1</text></g>
<g id="C-CCK"><ellipse cx="490" cy="1091" rx="37" ry="17"/><text x="490" y="1091">CCK</text></g>
<g id="C-TIMP1"><ellipse cx="605" cy="1106" rx="37" ry="17"/><text x="605" y="1106">TIMP1</text></g>
<g id="C-CCN2"><ellipse cx="272" cy="1151" rx="37" ry="17"/><text x="272" y="1151">CCN2</text></g>
<g id="C-NLRP3"><ellipse cx="711" cy="1151" rx="37" ry="17"/><text x="711" y="1151">NLRP3</text></g>
<g id="C-ATM"><ellipse cx="433" cy="1202" rx="37" ry="17"/><text x="433" y="1202">ATM</text></g>
<g id="C-MMP2"><ellipse cx="558" cy="1202" rx="37" ry="17"/><text x="558" y="1202">MMP2</text></g>
<g id="C-NGF"><ellipse cx="180" cy="1221" rx="37" ry="17"/><text x="180" y="1221">NGF</text></g>
<g id="C-HMGB1"><ellipse cx="802" cy="1221" rx="37" ry="17"/><text x="802" y="1221">HMGB1</text></g>
<g id="C-IRS1"><ellipse cx="318" cy="1247" rx="37" ry="17"/><text x="318" y="1247">IRS1</text></g>
<g id="C-CYP2D6"><ellipse cx="674" cy="1247" rx="37" ry="17"/><text x="674" y="1247">CYP2D6</text></g>
<g id="C-SOCS3"><ellipse cx="110" cy="1312" rx="37" ry="17"/><text x="110" y="1312">SOCS3</text></g>
<g id="C-MAP3K7"><ellipse cx="872" cy="1312" rx="37" ry="17"/><text x="872" y="1312">MAP3K7</text></g>
<g id="C-PPARGC1A"><ellipse cx="226" cy="1331" rx="37" ry="17"/><text x="226" y="1331">PPARGC1A</text></g>
<g id="C-CD274"><ellipse cx="766" cy="1331" rx="37" ry="17"/><text x="766" y="1331">CD274</text></g>
<g id="C-MPO"><ellipse cx="66" cy="1420" rx="37" ry="17"/><text x="66" y="1420">MPO</text></g>
<g id="C-IL1RN"><ellipse cx="916" cy="1420" rx="37" ry="17"/><text x="916" y="1420">IL1RN</text></g>
<g id="C-BRAF"><ellipse cx="171" cy="1442" rx="37" ry="17"/><text x="171" y="1442">BRAF</text></g>
<g id="C-IGF1R"><ellipse cx="821" cy="1442" rx="37" ry="17"/><text x="821" y="1442">IGF1R</text></g>
<g id="C-RPS6KB1"><ellipse cx="51" cy="1533" rx="37" ry="17"/><text x="51" y="1533">RPS6KB1</text></g>
<g id="C-SELP"><ellipse cx="932" cy="1533" rx="37" ry="17"/><text x="932" y="1533">SELP</text></g>
<g id="C-NR1I2"><ellipse cx="159" cy="1567" rx="37" ry="17"/><text x="159" y="1567">NR1I2</text></g>
<g id="C-SMAD4"><ellipse cx="832" cy="1567" rx="37" ry="17"/><text x="832" y="1567">SMAD4</text></g>
<g id="C-CDK1"><ellipse cx="66" cy="1648" rx="37" ry="17"/><text x="66" y="1648">CDK1</text></g>
<g id="C-SELE"><ellipse cx="917" cy="1648" rx="37" ry="17"/><text x="917" y="1648">SELE</text></g>
<g id="C-STAT1"><ellipse cx="193" cy="1687" rx="37" ry="17"/><text x="193" y="1687">STAT1</text></g>
<g id="C-EGR1"><ellipse cx="798" cy="1687" rx="37" ry="17"/><text x="798" y="1687">EGR1</text></g>
<g id="C-CEBPA"><ellipse cx="110" cy="1754" rx="37" ry="17"/><text x="110" y="1754">CEBPA</text></g>
<g id="C-SPP1"><ellipse cx="873" cy="1754" rx="37" ry="17"/><text x="873" y="1754">SPP1</text></g>
<g id="C-LIPC"><ellipse cx="268" cy="1787" rx="37" ry="17"/><text x="268" y="1787">LIPC</text></g>
<g id="C-CRP"><ellipse cx="723" cy="1787" rx="37" ry="17"/><text x="723" y="1787">CRP</text></g>
<g id="C-CASP9"><ellipse cx="180" cy="1846" rx="37" ry="17"/><text x="180" y="1846">CASP9</text></g>
<g id="C-MMP1"><ellipse cx="803" cy="1846" rx="37" ry="17"/><text x="803" y="1846">MMP1</text></g>
<g id="C-CYP1B1"><ellipse cx="373" cy="1853" rx="37" ry="17"/><text x="373" y="1853">CYP1B1</text></g>
<g id="C-CDK4"><ellipse cx="618" cy="1853" rx="37" ry="17"/><text x="618" y="1853">CDK4</text></g>
<g id="C-NFE2L2"><ellipse cx="492" cy="1875" rx="37" ry="17"/><text x="492" y="1875">NFE2L2</text></g>
<g id="C-STAT5B"><ellipse cx="271" cy="1917" rx="37" ry="17"/><text x="271" y="1917">STAT5B</text></g>
<g id="C-TBP"><ellipse cx="711" cy="1917" rx="37" ry="17"/><text x="711" y="1917">TBP</text></g>
<g id="C-CEBPB"><ellipse cx="377" cy="1960" rx="37" ry="17"/><text x="377" y="1960">CEBPB</text></g>
<g id="C-ARG1"><ellipse cx="605" cy="1960" rx="37" ry="17"/><text x="605" y="1960">ARG1</text></g>
<g id="C-CD163"><ellipse cx="490" cy="1976" rx="37" ry="17"/><text x="490" y="1976">CD163</text></g>
<g id="C-CYP2E1"><ellipse cx="293" cy="1428" rx="37" ry="17"/><text x="293" y="1428">CYP2E1</text></g>
<g id="C-CDKN2A"><ellipse cx="375" cy="1428" rx="37" ry="17"/><text x="375" y="1428">CDKN2A</text></g>
<g id="C-LCAT"><ellipse cx="456" cy="1428" rx="37" ry="17"/><text x="456" y="1428">LCAT</text></g>
<g id="C-RELA"><ellipse cx="538" cy="1428" rx="37" ry="17"/><text x="538" y="1428">RELA</text></g>
<g id="C-CETP"><ellipse cx="620" cy="1428" rx="37" ry="17"/><text x="620" y="1428">CETP</text></g>
<g id="C-APOC3"><ellipse cx="702" cy="1428" rx="37" ry="17"/><text x="702" y="1428">APOC3</text></g>
<g id="C-APOA4"><ellipse cx="293" cy="1469" rx="37" ry="17"/><text x="293" y="1469">APOA4</text></g>
<g id="C-APOA5"><ellipse cx="375" cy="1469" rx="37" ry="17"/><text x="375" y="1469">APOA5</text></g>
<g id="C-CLU"><ellipse cx="456" cy="1469" rx="37" ry="17"/><text x="456" y="1469">CLU</text></g>
<g id="C-APOA2"><ellipse cx="538" cy="1469" rx="37" ry="17"/><text x="538" y="1469">APOA2</text></g>
<g id="C-PLTP"><ellipse cx="620" cy="1469" rx="37" ry="17"/><text x="620" y="1469">PLTP</text></g>
<g id="C-CYP1A2"><ellipse cx="702" cy="1469" rx="37" ry="17"/><text x="702" y="1469">CYP1A2</text></g>
<g id="C-UGT1A3"><ellipse cx="293" cy="1511" rx="37" ry="17"/><text x="293" y="1511">UGT1A3</text></g>
<g id="C-LPL"><ellipse cx="375" cy="1511" rx="37" ry="17"/><text x="375" y="1511">LPL</text></g>
<g id="C-MTOR"><ellipse cx="456" cy="1511" rx="37" ry="17"/><text x="456" y="1511">MTOR</text></g>
<g id="C-CYP2A6"><ellipse cx="538" cy="1511" rx="37" ry="17"/><text x="538" y="1511">CYP2A6</text></g>
<g id="C-PON1"><ellipse cx="620" cy="1511" rx="37" ry="17"/><text x="620" y="1511">PON1</text></g>
<g id="C-CYP2B6"><ellipse cx="702" cy="1511" rx="37" ry="17"/><text x="702" y="1511">CYP2B6</text></g>
<g id="C-GSK3B"><ellipse cx="293" cy="1551" rx="37" ry="17"/><text x="293" y="1551">GSK3B</text></g>
<g id="C-UGT1A9"><ellipse cx="375" cy="1551" rx="37" ry="17"/><text x="375" y="1551">UGT1A9</text></g>
<g id="C-KRAS"><ellipse cx="456" cy="1551" rx="37" ry="17"/><text x="456" y="1551">KRAS</text></g>
<g id="C-IGF1"><ellipse cx="538" cy="1551" rx="37" ry="17"/><text x="538" y="1551">IGF1</text></g>
<g id="C-LPA"><ellipse cx="620" cy="1551" rx="37" ry="17"/><text x="620" y="1551">LPA</text></g>
<g id="C-CYP3A4"><ellipse cx="702" cy="1551" rx="37" ry="17"/><text x="702" y="1551">CYP3A4</text></g>
<g id="C-UGT1A10"><ellipse cx="293" cy="1592" rx="37" ry="17"/><text x="293" y="1592">UGT1A10</text></g>
<g id="C-CYP1A1"><ellipse cx="375" cy="1592" rx="37" ry="17"/><text x="375" y="1592">CYP1A1</text></g>
<g id="C-UGT1A6"><ellipse cx="456" cy="1592" rx="37" ry="17"/><text x="456" y="1592">UGT1A6</text></g>
<g id="C-APOB"><ellipse cx="538" cy="1592" rx="37" ry="17"/><text x="538" y="1592">APOB</text></g>
<g id="C-UGT1A7"><ellipse cx="620" cy="1592" rx="37" ry="17"/><text x="620" y="1592">UGT1A7</text></g>
<g id="C-UGT1A8"><ellipse cx="702" cy="1592" rx="37" ry="17"/><text x="702" y="1592">UGT1A8</text></g>
<g id="C-APOA1"><ellipse cx="293" cy="1633" rx="37" ry="17"/><text x="293" y="1633">APOA1</text></g>
<g id="C-UGT1A4"><ellipse cx="375" cy="1633" rx="37" ry="17"/><text x="375" y="1633">UGT1A4</text></g>
<g id="C-UGT1A1"><ellipse cx="456" cy="1633" rx="37" ry="17"/><text x="456" y="1633">UGT1A1</text></g>
<g id="C-APP"><ellipse cx="538" cy="1633" rx="37" ry="17"/><text x="538" y="1633">APP</text></g>
<g id="C-PTEN"><ellipse cx="620" cy="1633" rx="37" ry="17"/><text x="620" y="1633">PTEN</text></g>
<g id="C-BCL2"><ellipse cx="702" cy="1633" rx="37" ry="17"/><text x="702" y="1633">BCL2</text></g>
<g id="C-CTNNB1"><ellipse cx="293" cy="1674" rx="37" ry="17"/><text x="293" y="1674">CTNNB1</text></g>
<g id="C-AKT1"><ellipse cx="375" cy="1674" rx="37" ry="17"/><text x="375" y="1674">AKT1</text></g>
<g id="C-STAT3"><ellipse cx="456" cy="1674" rx="37" ry="17"/><text x="456" y="1674">STAT3</text></g>
<g id="C-TP53"><ellipse cx="538" cy="1674" rx="37" ry="17"/><text x="538" y="1674">TP53</text></g>
</g>
<g id="nodes-D" class="nd tD">
<g id="D-F3"><ellipse cx="1447" cy="1101" rx="42" ry="19"/><text x="1447" y="1101">F3</text></g>
<g id="D-PRKACA"><ellipse cx="1323" cy="1139" rx="42" ry="19"/><text x="1323" y="1139">PRKACA</text></g>
<g id="D-THBS1"><ellipse cx="1577" cy="1101" rx="42" ry="19"/><text x="1577" y="1101">THBS1</text></g>
<g id="D-LGALS3"><ellipse cx="1702" cy="1139" rx="42" ry="19"/><text x="1702" y="1139">LGALS3</text></g>
<g id="D-SERPINA1"><ellipse cx="1215" cy="1213" rx="42" ry="19"/><text x="1215" y="1213">SERPINA1</text></g>
<g id="D-VWF"><ellipse cx="1458" cy="1206" rx="42" ry="19"/><text x="1458" y="1206">VWF</text></g>
<g id="D-SERPINE1"><ellipse cx="1597" cy="1206" rx="42" ry="19"/><text x="1597" y="1206">SERPINE1</text></g>
<g id="D-AFP"><ellipse cx="1809" cy="1213" rx="42" ry="19"/><text x="1809" y="1213">AFP</text></g>
<g id="D-TNFRSF1B"><ellipse cx="1331" cy="1263" rx="42" ry="19"/><text x="1331" y="1263">TNFRSF1B</text></g>
<g id="D-LIF"><ellipse cx="1724" cy="1263" rx="42" ry="19"/><text x="1724" y="1263">LIF</text></g>
<g id="D-AHSG"><ellipse cx="1134" cy="1315" rx="42" ry="19"/><text x="1134" y="1315">AHSG</text></g>
<g id="D-CAV1"><ellipse cx="1890" cy="1315" rx="42" ry="19"/><text x="1890" y="1315">CAV1</text></g>
<g id="D-SREBF1"><ellipse cx="1238" cy="1367" rx="42" ry="19"/><text x="1238" y="1367">SREBF1</text></g>
<g id="D-RUNX1"><ellipse cx="1817" cy="1367" rx="42" ry="19"/><text x="1817" y="1367">RUNX1</text></g>
<g id="D-TNFSF11"><ellipse cx="1086" cy="1437" rx="42" ry="19"/><text x="1086" y="1437">TNFSF11</text></g>
<g id="D-LEPR"><ellipse cx="1938" cy="1437" rx="42" ry="19"/><text x="1938" y="1437">LEPR</text></g>
<g id="D-HSPA4"><ellipse cx="1195" cy="1499" rx="42" ry="19"/><text x="1195" y="1499">HSPA4</text></g>
<g id="D-MUC1"><ellipse cx="1860" cy="1499" rx="42" ry="19"/><text x="1860" y="1499">MUC1</text></g>
<g id="D-DNMT1"><ellipse cx="1077" cy="1567" rx="42" ry="19"/><text x="1077" y="1567">DNMT1</text></g>
<g id="D-BDNF"><ellipse cx="1948" cy="1567" rx="42" ry="19"/><text x="1948" y="1567">BDNF</text></g>
<g id="D-STK11"><ellipse cx="1208" cy="1638" rx="42" ry="19"/><text x="1208" y="1638">STK11</text></g>
<g id="D-CHEK2"><ellipse cx="1845" cy="1638" rx="42" ry="19"/><text x="1845" y="1638">CHEK2</text></g>
<g id="D-FABP4"><ellipse cx="1106" cy="1694" rx="42" ry="19"/><text x="1106" y="1694">FABP4</text></g>
<g id="D-FASLG"><ellipse cx="1918" cy="1694" rx="42" ry="19"/><text x="1918" y="1694">FASLG</text></g>
<g id="D-PALB2"><ellipse cx="1279" cy="1758" rx="42" ry="19"/><text x="1279" y="1758">PALB2</text></g>
<g id="D-HGF"><ellipse cx="1776" cy="1758" rx="42" ry="19"/><text x="1776" y="1758">HGF</text></g>
<g id="D-FGA"><ellipse cx="1171" cy="1808" rx="42" ry="19"/><text x="1171" y="1808">FGA</text></g>
<g id="D-RETN"><ellipse cx="1853" cy="1808" rx="42" ry="19"/><text x="1853" y="1808">RETN</text></g>
<g id="D-CASP8"><ellipse cx="1392" cy="1841" rx="42" ry="19"/><text x="1392" y="1841">CASP8</text></g>
<g id="D-LIPE"><ellipse cx="1663" cy="1841" rx="42" ry="19"/><text x="1663" y="1841">LIPE</text></g>
<g id="D-STUB1"><ellipse cx="1528" cy="1870" rx="42" ry="19"/><text x="1528" y="1870">STUB1</text></g>
<g id="D-PNPLA2"><ellipse cx="1267" cy="1896" rx="42" ry="19"/><text x="1267" y="1896">PNPLA2</text></g>
<g id="D-GPT"><ellipse cx="1758" cy="1896" rx="42" ry="19"/><text x="1758" y="1896">GPT</text></g>
<g id="D-UCP1"><ellipse cx="1383" cy="1954" rx="42" ry="19"/><text x="1383" y="1954">UCP1</text></g>
<g id="D-RB1"><ellipse cx="1641" cy="1954" rx="42" ry="19"/><text x="1641" y="1954">RB1</text></g>
<g id="D-GHR"><ellipse cx="1512" cy="1973" rx="42" ry="19"/><text x="1512" y="1973">GHR</text></g>
<g id="D-MLH1"><ellipse cx="1352" cy="1433" rx="42" ry="19"/><text x="1352" y="1433">MLH1</text></g>
<g id="D-PMS2"><ellipse cx="1443" cy="1433" rx="42" ry="19"/><text x="1443" y="1433">PMS2</text></g>
<g id="D-TBK1"><ellipse cx="1535" cy="1433" rx="42" ry="19"/><text x="1535" y="1433">TBK1</text></g>
<g id="D-BRCA2"><ellipse cx="1627" cy="1433" rx="42" ry="19"/><text x="1627" y="1433">BRCA2</text></g>
<g id="D-IRF1"><ellipse cx="1718" cy="1433" rx="42" ry="19"/><text x="1718" y="1433">IRF1</text></g>
<g id="D-MSH6"><ellipse cx="1352" cy="1478" rx="42" ry="19"/><text x="1352" y="1478">MSH6</text></g>
<g id="D-RPS27A"><ellipse cx="1443" cy="1478" rx="42" ry="19"/><text x="1443" y="1478">RPS27A</text></g>
<g id="D-IFNA2"><ellipse cx="1535" cy="1478" rx="42" ry="19"/><text x="1535" y="1478">IFNA2</text></g>
<g id="D-PLCG2"><ellipse cx="1627" cy="1478" rx="42" ry="19"/><text x="1627" y="1478">PLCG2</text></g>
<g id="D-BIRC3"><ellipse cx="1718" cy="1478" rx="42" ry="19"/><text x="1718" y="1478">BIRC3</text></g>
<g id="D-IRF3"><ellipse cx="1352" cy="1524" rx="42" ry="19"/><text x="1352" y="1524">IRF3</text></g>
<g id="D-IL6ST"><ellipse cx="1443" cy="1524" rx="42" ry="19"/><text x="1443" y="1524">IL6ST</text></g>
<g id="D-PIK3CG"><ellipse cx="1535" cy="1524" rx="42" ry="19"/><text x="1535" y="1524">PIK3CG</text></g>
<g id="D-IFIH1"><ellipse cx="1627" cy="1524" rx="42" ry="19"/><text x="1627" y="1524">IFIH1</text></g>
<g id="D-TRAF3"><ellipse cx="1718" cy="1524" rx="42" ry="19"/><text x="1718" y="1524">TRAF3</text></g>
<g id="D-SOCS1"><ellipse cx="1352" cy="1569" rx="42" ry="19"/><text x="1352" y="1569">SOCS1</text></g>
<g id="D-IRS2"><ellipse cx="1443" cy="1569" rx="42" ry="19"/><text x="1443" y="1569">IRS2</text></g>
<g id="D-NRAS"><ellipse cx="1535" cy="1569" rx="42" ry="19"/><text x="1535" y="1569">NRAS</text></g>
<g id="D-MET"><ellipse cx="1627" cy="1569" rx="42" ry="19"/><text x="1627" y="1569">MET</text></g>
<g id="D-IKBKG"><ellipse cx="1718" cy="1569" rx="42" ry="19"/><text x="1718" y="1569">IKBKG</text></g>
<g id="D-RAF1"><ellipse cx="1352" cy="1617" rx="42" ry="19"/><text x="1352" y="1617">RAF1</text></g>
<g id="D-PIK3CD"><ellipse cx="1443" cy="1617" rx="42" ry="19"/><text x="1443" y="1617">PIK3CD</text></g>
<g id="D-PIK3CB"><ellipse cx="1535" cy="1617" rx="42" ry="19"/><text x="1535" y="1617">PIK3CB</text></g>
<g id="D-PDGFRB"><ellipse cx="1627" cy="1617" rx="42" ry="19"/><text x="1627" y="1617">PDGFRB</text></g>
<g id="D-TRAF6"><ellipse cx="1718" cy="1617" rx="42" ry="19"/><text x="1718" y="1617">TRAF6</text></g>
<g id="D-GRB2"><ellipse cx="1352" cy="1662" rx="42" ry="19"/><text x="1352" y="1662">GRB2</text></g>
<g id="D-PIK3CA"><ellipse cx="1443" cy="1662" rx="42" ry="19"/><text x="1443" y="1662">PIK3CA</text></g>
<g id="D-JAK2"><ellipse cx="1535" cy="1662" rx="42" ry="19"/><text x="1535" y="1662">JAK2</text></g>
</g>
<g id="nodes-E" class="nd tE">
<g id="E-HLA-DPA1"><ellipse cx="172" cy="2141" rx="53" ry="25"/><text x="172" y="2141">HLA-DPA1</text></g>
<g id="E-HLA-C"><ellipse cx="316" cy="2158" rx="53" ry="25"/><text x="316" y="2158">HLA-C</text></g>
<g id="E-FBXW7"><ellipse cx="798" cy="2129" rx="53" ry="25"/><text x="798" y="2129">FBXW7</text></g>
<g id="E-SMARCA4"><ellipse cx="919" cy="2168" rx="53" ry="25"/><text x="919" y="2168">SMARCA4</text></g>
<g id="E-HLA-DQA2"><ellipse cx="69" cy="2227" rx="53" ry="25"/><text x="69" y="2227">HLA-DQA2</text></g>
<g id="E-PTPN11"><ellipse cx="715" cy="2225" rx="53" ry="25"/><text x="715" y="2225">PTPN11</text></g>
<g id="E-STAT5A"><ellipse cx="859" cy="2233" rx="53" ry="25"/><text x="859" y="2233">STAT5A</text></g>
<g id="E-PRF1"><ellipse cx="356" cy="2247" rx="53" ry="25"/><text x="356" y="2247">PRF1</text></g>
<g id="E-HLA-DMA"><ellipse cx="163" cy="2288" rx="53" ry="25"/><text x="163" y="2288">HLA-DMA</text></g>
<g id="E-CTLA4"><ellipse cx="499" cy="2297" rx="53" ry="25"/><text x="499" y="2297">CTLA4</text></g>
<g id="E-SHC1"><ellipse cx="739" cy="2301" rx="53" ry="25"/><text x="739" y="2301">SHC1</text></g>
<g id="E-HLA-B"><ellipse cx="308" cy="2317" rx="53" ry="25"/><text x="308" y="2317">HLA-B</text></g>
<g id="E-ERBB4"><ellipse cx="881" cy="2330" rx="53" ry="25"/><text x="881" y="2330">ERBB4</text></g>
<g id="E-HLA-DRB1"><ellipse cx="401" cy="2365" rx="53" ry="25"/><text x="401" y="2365">HLA-DRB1</text></g>
<g id="E-HLA-DQB1"><ellipse cx="210" cy="2378" rx="53" ry="25"/><text x="210" y="2378">HLA-DQB1</text></g>
<g id="E-HLA-DPB1"><ellipse cx="96" cy="2419" rx="53" ry="25"/><text x="96" y="2419">HLA-DPB1</text></g>
<g id="E-PDCD1"><ellipse cx="479" cy="2428" rx="53" ry="25"/><text x="479" y="2428">PDCD1</text></g>
<g id="E-HLA-DQA1"><ellipse cx="313" cy="2437" rx="53" ry="25"/><text x="313" y="2437">HLA-DQA1</text></g>
</g>
<g id="nodes-F" class="nd tF">
<g id="F-MAOA"><ellipse cx="1338" cy="2178" rx="68" ry="29"/><text x="1338" y="2178">MAOA</text></g>
<g id="F-DRD2"><ellipse cx="1572" cy="2135" rx="68" ry="29"/><text x="1572" y="2135">DRD2</text></g>
<g id="F-HTR2A"><ellipse cx="1690" cy="2291" rx="68" ry="29"/><text x="1690" y="2291">HTR2A</text></g>
<g id="F-DRD4"><ellipse cx="1347" cy="2381" rx="68" ry="29"/><text x="1347" y="2381">DRD4</text></g>
<g id="F-SLC6A4"><ellipse cx="1569" cy="2432" rx="68" ry="29"/><text x="1569" y="2432">SLC6A4</text></g>
</g>
<g id="nodes-G" class="nd tG">
<g id="G-TIMP2"><ellipse cx="413" cy="2597" rx="47" ry="21"/><text x="413" y="2597">TIMP2</text></g>
<g id="G-MMP7"><ellipse cx="574" cy="2597" rx="47" ry="21"/><text x="574" y="2597">MMP7</text></g>
<g id="G-ADIPOQ"><ellipse cx="265" cy="2654" rx="47" ry="21"/><text x="265" y="2654">ADIPOQ</text></g>
<g id="G-TF"><ellipse cx="723" cy="2654" rx="47" ry="21"/><text x="723" y="2654">TF</text></g>
<g id="G-LRP5"><ellipse cx="510" cy="2730" rx="47" ry="21"/><text x="510" y="2730">LRP5</text></g>
<g id="G-DKK1"><ellipse cx="146" cy="2763" rx="47" ry="21"/><text x="146" y="2763">DKK1</text></g>
<g id="G-SNCA"><ellipse cx="840" cy="2763" rx="47" ry="21"/><text x="840" y="2763">SNCA</text></g>
<g id="G-WNT1"><ellipse cx="335" cy="2786" rx="47" ry="21"/><text x="335" y="2786">WNT1</text></g>
<g id="G-HP"><ellipse cx="683" cy="2786" rx="47" ry="21"/><text x="683" y="2786">HP</text></g>
<g id="G-PLAU"><ellipse cx="76" cy="2904" rx="47" ry="21"/><text x="76" y="2904">PLAU</text></g>
<g id="G-ACE"><ellipse cx="912" cy="2904" rx="47" ry="21"/><text x="912" y="2904">ACE</text></g>
<g id="G-F2"><ellipse cx="228" cy="2935" rx="47" ry="21"/><text x="228" y="2935">F2</text></g>
<g id="G-C3"><ellipse cx="790" cy="2935" rx="47" ry="21"/><text x="790" y="2935">C3</text></g>
<g id="G-APC"><ellipse cx="61" cy="3064" rx="47" ry="21"/><text x="61" y="3064">APC</text></g>
<g id="G-MMP13"><ellipse cx="926" cy="3064" rx="47" ry="21"/><text x="926" y="3064">MMP13</text></g>
<g id="G-TTR"><ellipse cx="228" cy="3117" rx="47" ry="21"/><text x="228" y="3117">TTR</text></g>
<g id="G-SDC1"><ellipse cx="790" cy="3117" rx="47" ry="21"/><text x="790" y="3117">SDC1</text></g>
<g id="G-SERPINC1"><ellipse cx="104" cy="3218" rx="47" ry="21"/><text x="104" y="3218">SERPINC1</text></g>
<g id="G-PLIN1"><ellipse cx="883" cy="3218" rx="47" ry="21"/><text x="883" y="3218">PLIN1</text></g>
<g id="G-APOE"><ellipse cx="335" cy="3265" rx="47" ry="21"/><text x="335" y="3265">APOE</text></g>
<g id="G-WNT3A"><ellipse cx="683" cy="3265" rx="47" ry="21"/><text x="683" y="3265">WNT3A</text></g>
<g id="G-LRP6"><ellipse cx="508" cy="3321" rx="47" ry="21"/><text x="508" y="3321">LRP6</text></g>
<g id="G-FGB"><ellipse cx="201" cy="3345" rx="47" ry="21"/><text x="201" y="3345">FGB</text></g>
<g id="G-SLC2A4"><ellipse cx="787" cy="3345" rx="47" ry="21"/><text x="787" y="3345">SLC2A4</text></g>
<g id="G-SERPINF2"><ellipse cx="335" cy="3429" rx="47" ry="21"/><text x="335" y="3429">SERPINF2</text></g>
<g id="G-COL1A1"><ellipse cx="651" cy="3429" rx="47" ry="21"/><text x="651" y="3429">COL1A1</text></g>
<g id="G-REN"><ellipse cx="494" cy="3459" rx="47" ry="21"/><text x="494" y="3459">REN</text></g>
</g>
<g id="nodes-H" class="nd tH">
<g id="H-PRKAG2"><ellipse cx="1295" cy="2816" rx="107" ry="50"/><text x="1295" y="2816">PRKAG2</text></g>
<g id="H-PRKAA2"><ellipse cx="1683" cy="2960" rx="107" ry="50"/><text x="1683" y="2960">PRKAA2</text></g>
<g id="H-PRKAA1"><ellipse cx="1351" cy="3075" rx="107" ry="50"/><text x="1351" y="3075">PRKAA1</text></g>
<g id="H-PRKAB1"><ellipse cx="1733" cy="3243" rx="107" ry="50"/><text x="1733" y="3243">PRKAB1</text></g>
</g>
</svg>
